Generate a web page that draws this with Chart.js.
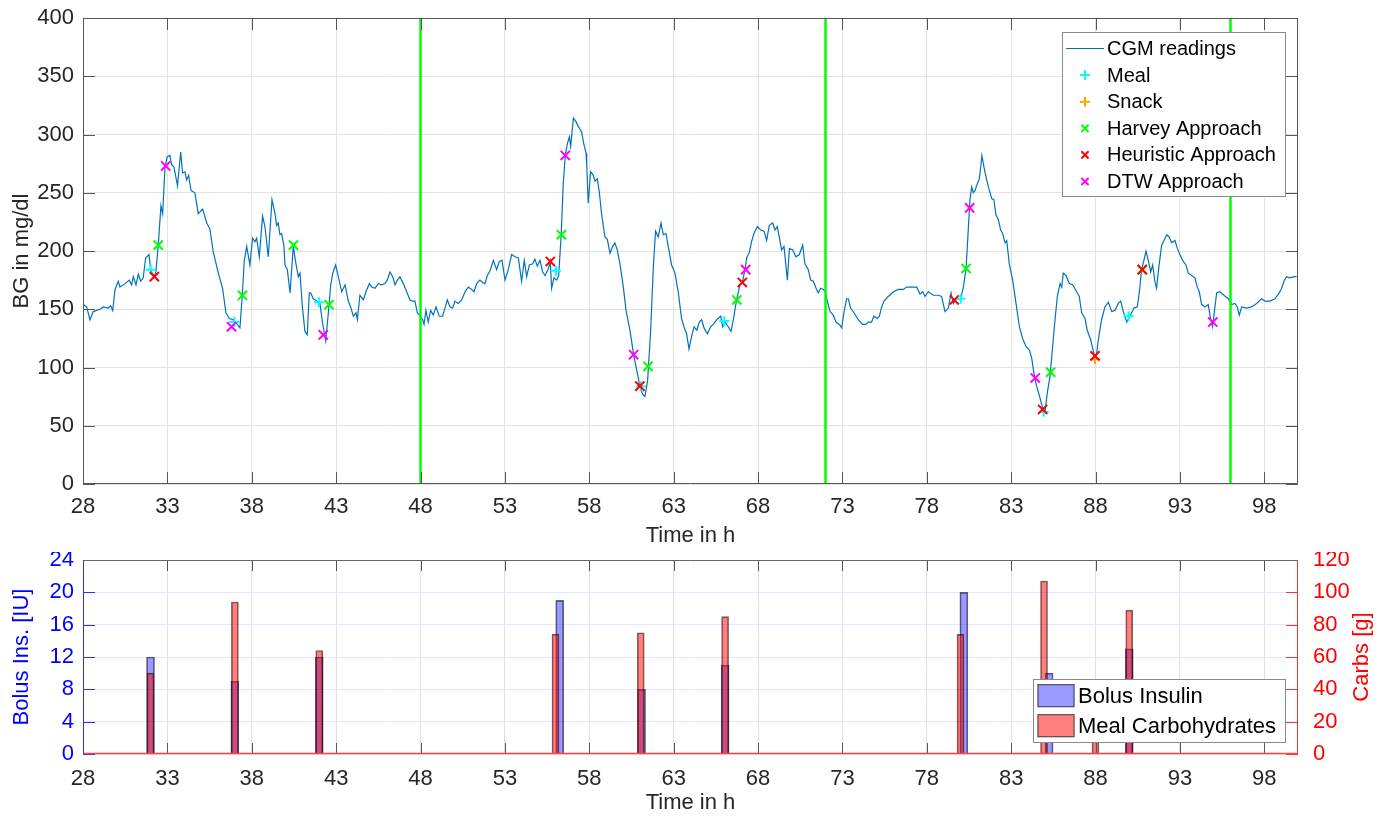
<!DOCTYPE html>
<html>
<head>
<meta charset="utf-8">
<script src="https://cdn.jsdelivr.net/npm/chart.js@4.4.1/dist/chart.umd.min.js"></script>
<style>
  html, body { margin: 0; padding: 0; background: #fff; }
  #wrap { position: relative; width: 1381px; height: 819px; }
  .box { position: absolute; left: 0; width: 1381px; }
</style>
</head>
<body>
<div id="wrap">
  <div class="box" style="top:0;height:552px"><canvas id="bgChart"></canvas></div>
  <div class="box" style="top:552px;height:267px"><canvas id="bolusChart"></canvas></div>
</div>
<script>
// ---- data ----
// CGM trace as [time in h, BG in mg/dl]
var cgmReadings = [
  [28.02,154],[28.22,152],[28.41,141],[28.61,148],[29.0,150],[29.2,152],[29.5,151],[29.64,153],[29.76,149],
  [29.9,167],[30.09,174],[30.19,169],[30.49,172],[30.74,175],[30.88,171],[30.98,178],[31.14,171],[31.28,180],
  [31.42,174],[31.57,177],[31.71,194],[31.91,197],[32.01,184],[32.2,178],[32.32,182],[32.46,205],[32.62,239],
  [32.72,232],[32.86,272],[32.99,281],[33.15,282],[33.25,274],[33.39,272],[33.6,256],[33.79,285],[33.9,267],
  [34.04,268],[34.14,261],[34.26,265],[34.4,252],[34.63,250],[34.83,232],[35.09,236],[35.33,224],[35.52,219],
  [35.72,199],[36.02,181],[36.27,168],[36.47,147],[36.67,142],[36.9,141],[37.14,137],[37.3,134],[37.44,162],
  [37.56,192],[37.7,204],[37.89,188],[38.05,211],[38.19,208],[38.29,211],[38.45,195],[38.64,230],[38.78,221],
  [38.98,195],[39.2,244],[39.38,232],[39.47,222],[39.57,224],[39.67,214],[39.77,215],[39.91,204],[39.97,188],
  [40.11,184],[40.27,164],[40.46,204],[40.62,189],[40.76,178],[40.86,181],[41.0,152],[41.15,131],[41.29,128],
  [41.41,164],[41.49,164],[41.65,159],[41.85,157],[42.04,155],[42.2,138],[42.38,123],[42.54,147],[42.68,171],
  [42.8,181],[42.97,188],[43.13,178],[43.33,165],[43.53,171],[43.72,157],[43.86,152],[44.02,144],[44.18,147],
  [44.26,141],[44.41,162],[44.61,158],[44.77,165],[44.97,172],[45.11,169],[45.3,168],[45.5,172],[45.7,171],
  [45.9,172],[46.03,175],[46.19,182],[46.35,178],[46.49,171],[46.63,175],[46.78,178],[46.98,172],[47.18,165],
  [47.38,158],[47.53,157],[47.67,157],[47.81,147],[47.97,144],[48.13,141],[48.21,137],[48.32,149],[48.46,139],
  [48.6,149],[48.76,145],[48.92,152],[49.11,144],[49.31,144],[49.47,152],[49.59,158],[49.75,152],[49.9,151],
  [50.04,157],[50.24,155],[50.44,158],[50.64,165],[50.83,169],[51.03,167],[51.17,165],[51.33,172],[51.52,175],
  [51.68,173],[51.82,172],[51.96,179],[52.12,183],[52.32,192],[52.51,184],[52.67,191],[52.83,192],[53.01,175],
  [53.2,184],[53.4,197],[53.6,195],[53.8,194],[53.99,174],[54.15,192],[54.29,178],[54.45,188],[54.65,189],
  [54.78,193],[54.92,187],[55.08,192],[55.24,182],[55.38,179],[55.58,185],[55.69,191],[55.77,168],[55.91,177],
  [56.07,175],[56.19,179],[56.34,215],[56.46,258],[56.58,282],[56.7,292],[56.82,298],[56.9,290],[57.06,314],
  [57.21,311],[57.35,307],[57.55,302],[57.69,291],[57.81,284],[57.85,274],[57.94,241],[58.08,268],[58.24,265],
  [58.34,260],[58.48,262],[58.6,250],[58.73,232],[58.93,212],[59.07,210],[59.23,198],[59.39,204],[59.52,207],
  [59.66,201],[59.82,189],[60.02,169],[60.18,149],[60.41,132],[60.63,111],[60.81,98],[61.0,84],[61.16,77],
  [61.3,75],[61.46,89],[61.64,132],[61.8,187],[61.93,217],[62.09,212],[62.25,224],[62.39,214],[62.55,215],
  [62.68,204],[62.88,188],[63.08,181],[63.28,164],[63.47,142],[63.61,135],[63.77,129],[63.91,116],[64.07,127],
  [64.21,135],[64.37,132],[64.52,139],[64.66,141],[64.8,134],[65.0,129],[65.2,135],[65.35,137],[65.55,141],
  [65.79,144],[65.91,135],[66.04,139],[66.24,135],[66.4,131],[66.54,141],[66.73,158],[66.93,171],[67.07,173],
  [67.23,184],[67.33,194],[67.49,199],[67.62,208],[67.76,215],[67.96,221],[68.16,218],[68.36,217],[68.51,209],
  [68.67,222],[68.87,224],[69.01,218],[69.14,221],[69.3,209],[69.4,201],[69.54,204],[69.74,175],[69.86,202],
  [70.05,201],[70.25,195],[70.45,197],[70.65,205],[70.78,189],[70.98,184],[71.12,175],[71.28,174],[71.44,168],
  [71.57,164],[71.71,168],[71.87,167],[71.99,165],[72.11,157],[72.27,148],[72.46,145],[72.62,139],[72.82,137],
  [72.96,134],[73.09,147],[73.25,159],[73.35,159],[73.49,151],[73.69,147],[73.94,141],[74.2,137],[74.4,137],
  [74.54,139],[74.73,139],[74.87,144],[75.07,142],[75.19,144],[75.33,152],[75.47,157],[75.72,161],[76.02,165],
  [76.32,167],[76.61,167],[76.81,169],[77.11,169],[77.4,169],[77.6,163],[77.76,165],[77.9,161],[78.09,165],
  [78.39,162],[78.69,162],[78.88,161],[79.08,148],[79.28,151],[79.44,164],[79.58,155],[79.77,159],[80.01,159],
  [80.17,169],[80.33,185],[80.46,218],[80.56,244],[80.66,255],[80.76,250],[80.86,252],[81.0,258],[81.1,261],
  [81.16,267],[81.27,282],[81.39,272],[81.55,261],[81.71,252],[81.85,245],[81.98,244],[82.1,231],[82.24,227],
  [82.38,218],[82.5,215],[82.64,207],[82.74,209],[82.89,189],[83.09,175],[83.29,155],[83.49,135],[83.68,125],
  [83.88,118],[84.08,115],[84.22,108],[84.35,95],[84.51,84],[84.71,74],[84.87,65],[85.01,62],[85.14,78],
  [85.3,92],[85.46,118],[85.6,141],[85.74,161],[85.9,172],[86.0,169],[86.09,181],[86.25,179],[86.45,172],
  [86.65,171],[86.88,165],[87.04,161],[87.18,147],[87.38,142],[87.51,132],[87.71,124],[87.97,108],[88.07,112],
  [88.17,124],[88.36,141],[88.56,152],[88.76,156],[88.96,148],[89.15,149],[89.35,155],[89.49,157],[89.65,148],
  [89.85,139],[90.04,144],[90.28,151],[90.48,152],[90.6,165],[90.73,184],[90.87,192],[90.99,200],[91.13,192],
  [91.27,182],[91.39,188],[91.52,174],[91.62,168],[91.76,187],[91.92,205],[92.06,209],[92.22,214],[92.37,212],
  [92.51,207],[92.71,209],[92.85,202],[93.0,197],[93.2,191],[93.36,188],[93.5,181],[93.7,179],[93.89,177],
  [94.03,169],[94.15,165],[94.29,154],[94.49,152],[94.68,154],[94.82,142],[94.94,135],[95.02,145],[95.18,164],
  [95.37,165],[95.61,162],[95.87,159],[96.07,154],[96.26,155],[96.4,152],[96.52,145],[96.66,152],[96.96,151],
  [97.25,152],[97.55,155],[97.84,159],[98.04,157],[98.34,157],[98.63,159],[98.89,164],[99.03,168],[99.17,174],
  [99.32,178],[99.52,177],[99.76,178],[99.92,178]
];

var mealTime = [32.01, 36.97, 41.98, 56.03, 61.05, 66.0, 80.01, 84.93, 89.96];
var mealBG = [184, 139, 156, 183, 84, 140, 159, 62, 144];
var snackTime = [87.97];
var snackBG = [107];
var harveyTime = [32.46, 37.45, 40.47, 42.58, 56.35, 61.48, 66.74, 80.33, 85.34, 90.77];
var harveyBG = [205, 162, 205, 154, 214, 101, 158, 185, 96, 184];
var heuristicTime = [32.23, 55.69, 61.0, 67.07, 79.63, 84.87, 87.97, 90.77];
var heuristicBG = [178, 191, 84, 173, 158, 64, 110, 184];
var dtwTime = [32.9, 36.8, 42.24, 56.58, 60.63, 67.27, 80.54, 84.43, 94.95];
var dtwBG = [273, 135, 128, 282, 111, 184, 237, 91, 139];

var dayLines = [48, 72, 96];

var bolusTime = [32.0, 37.0, 42.0, 56.25, 61.1, 66.05, 80.2, 85.25, 90.0];
var bolusUnits = [12, 9, 12, 19, 8, 11, 20, 10, 13];
var carbTime = [32.0, 37.0, 42.0, 56.0, 61.05, 66.05, 80.0, 84.95, 88.0, 90.0];
var carbGrams = [50, 94, 64, 74, 75, 85, 74, 107, 20, 89];

var timeTicks = [28, 33, 38, 43, 48, 53, 58, 63, 68, 73, 78, 83, 88, 93, 98];
var bgTicks = [0, 50, 100, 150, 200, 250, 300, 350, 400];
var bolusTicks = [0, 4, 8, 12, 16, 20, 24];
var carbTicks = [0, 20, 40, 60, 80, 100, 120];

// ---- helpers ----
var FONT = '"Liberation Sans", Arial, Helvetica, sans-serif';
var INK = '#262626';

function byId(id) { return document.getElementById(id); }
function pairs(xs, ys) {
  return xs.map(function (x, i) { return { x: x, y: ys[i] }; });
}
function fixedTicks(list) {
  return function (scale) {
    scale.ticks = list.map(function (v) { return { value: v }; });
  };
}
// Fix an axis' thickness and drop the label overhang padding, so the plot
// box lands where the original figure has it.
function fitX(h) {
  return function (s) { s.height = h; s.paddingLeft = 0; s.paddingRight = 0; };
}
function fitY(w) {
  return function (s) { s.width = w; s.paddingTop = 0; s.paddingBottom = 0; };
}
function markerSet(label, xs, ys, color, style, radius, order) {
  return {
    label: label,
    data: pairs(xs, ys),
    showLine: false,
    pointStyle: style,
    pointRadius: radius,
    pointBorderWidth: 2,
    pointBorderColor: color,
    pointBackgroundColor: color,
    borderColor: color,
    order: order,
  };
}

// Box border plus MATLAB-style inward tick marks.
var framePlugin = {
  id: 'frame',
  afterDatasetsDraw: function (chart, args, opts) {
    var a = chart.chartArea, ctx = chart.ctx;
    ctx.save();
    (opts.ticks || []).forEach(function (t) {
      var scale = chart.scales[t.scale];
      ctx.strokeStyle = t.color;
      ctx.lineWidth = 1;
      scale.ticks.forEach(function (tick) {
        var p = Math.round(scale.getPixelForValue(tick.value)) + 0.5;
        t.sides.forEach(function (side) {
          ctx.beginPath();
          if (side === 'bottom') { ctx.moveTo(p, a.bottom); ctx.lineTo(p, a.bottom - t.len); }
          if (side === 'top') { ctx.moveTo(p, a.top); ctx.lineTo(p, a.top + t.len); }
          if (side === 'left') { ctx.moveTo(a.left, p); ctx.lineTo(a.left + t.len, p); }
          if (side === 'right') { ctx.moveTo(a.right, p); ctx.lineTo(a.right - t.len, p); }
          ctx.stroke();
        });
      });
    });
    var b = opts.border;
    var L = Math.round(a.left) + 0.5, R = Math.round(a.right) - 0.5;
    var T = Math.round(a.top) + 0.5, B = Math.round(a.bottom) - 0.5;
    function edge(color, w, x1, y1, x2, y2) {
      ctx.strokeStyle = color; ctx.lineWidth = w;
      ctx.beginPath(); ctx.moveTo(x1, y1); ctx.lineTo(x2, y2); ctx.stroke();
    }
    edge(b.top, 1, L, T, R, T);
    edge(b.bottom, b.bottomWidth || 1, L, B, R, B);
    edge(b.left, 1, L, T, L, B);
    edge(b.right, 1, R, T, R, B);
    if (opts.rightTitle) {
      var rt = opts.rightTitle;
      ctx.fillStyle = rt.color;
      ctx.font = '22px ' + FONT;
      ctx.textAlign = 'center';
      ctx.textBaseline = 'middle';
      ctx.translate(rt.x, (a.top + a.bottom) / 2);
      ctx.rotate(-Math.PI / 2);
      ctx.fillText(rt.text, 0, 0);
    }
    ctx.restore();
  },
};

// Legend drawn inside the plot area, as in the original figure.
var boxLegendPlugin = {
  id: 'boxLegend',
  afterDraw: function (chart, args, o) {
    var ctx = chart.ctx;
    var items = chart.data.datasets.filter(function (d) { return d.label; });
    ctx.save();
    ctx.fillStyle = '#fff';
    ctx.fillRect(o.box[0], o.box[1], o.box[2] - o.box[0], o.box[3] - o.box[1]);
    ctx.strokeStyle = '#8a8a8a';
    ctx.lineWidth = 1;
    ctx.strokeRect(o.box[0] + 0.5, o.box[1] + 0.5, o.box[2] - o.box[0], o.box[3] - o.box[1]);
    ctx.font = o.fontSize + 'px ' + FONT;
    ctx.textBaseline = 'middle';
    ctx.textAlign = 'left';
    items.forEach(function (d, i) {
      var y = o.rowY + i * o.rowGap;
      var x = o.sampleX;
      if (o.kind === 'swatch') {
        ctx.fillStyle = d.backgroundColor;
        ctx.fillRect(x - 18, y - 11.5, 37, 23);
        ctx.strokeStyle = '#444';
        ctx.strokeRect(x - 18 + 0.5, y - 11.5 + 0.5, 36, 22);
      } else if (d.showLine === false) {
        var r = d.pointRadius;
        ctx.strokeStyle = d.pointBorderColor;
        ctx.lineWidth = 2;
        ctx.beginPath();
        if (d.pointStyle === 'cross') {
          ctx.moveTo(x - r, y); ctx.lineTo(x + r, y);
          ctx.moveTo(x, y - r); ctx.lineTo(x, y + r);
        } else {
          var q = r * 0.55;
          ctx.moveTo(x - q, y - q); ctx.lineTo(x + q, y + q);
          ctx.moveTo(x - q, y + q); ctx.lineTo(x + q, y - q);
        }
        ctx.stroke();
      } else {
        ctx.strokeStyle = d.borderColor;
        ctx.lineWidth = 1.2;
        ctx.beginPath(); ctx.moveTo(x - 19, y); ctx.lineTo(x + 19, y); ctx.stroke();
      }
      ctx.fillStyle = '#000';
      ctx.fillText(d.label, o.textX, y + 1);
    });
    ctx.restore();
  },
};

Chart.defaults.font.family = FONT;
Chart.defaults.font.size = 22;
Chart.defaults.color = INK;

// ---- upper plot: CGM trace with detected meals ----
var bgDatasets = [
  {
    label: 'CGM readings',
    data: cgmReadings.map(function (p) { return { x: p[0], y: p[1] }; }),
    borderColor: '#0072BD',
    borderWidth: 1.2,
    pointRadius: 0,
    tension: 0,
    order: 6,
  },
  markerSet('Meal', mealTime, mealBG, '#00ffff', 'cross', 5, 5),
  markerSet('Snack', snackTime, snackBG, '#ffa500', 'cross', 5, 4),
  markerSet('Harvey Approach', harveyTime, harveyBG, '#00ff00', 'crossRot', 6.5, 3),
  markerSet('Heuristic Approach', heuristicTime, heuristicBG, '#ff0000', 'crossRot', 6.5, 2),
  markerSet('DTW Approach', dtwTime, dtwBG, '#ff00ff', 'crossRot', 6.5, 1),
];
dayLines.forEach(function (t) {
  bgDatasets.push({
    data: [{ x: t, y: 0 }, { x: t, y: 400 }],
    borderColor: '#00ff00',
    borderWidth: 2.5,
    pointRadius: 0,
    order: 0,
  });
});

new Chart(byId('bgChart'), {
  type: 'line',
  data: { datasets: bgDatasets },
  options: {
    animation: false,
    responsive: true,
    maintainAspectRatio: false,
    layout: { padding: { top: 18, right: 83, left: 0, bottom: 0 } },
    plugins: {
      legend: { display: false },
      tooltip: { enabled: false },
      frame: {
        border: { top: '#555', bottom: '#555', left: '#555', right: '#555' },
        ticks: [
          { scale: 'x', color: '#555', len: 12, sides: ['bottom', 'top'] },
          { scale: 'y', color: '#555', len: 12, sides: ['left', 'right'] },
        ],
      },
      boxLegend: {
        box: [1062, 32, 1285, 196],
        rowY: 48.5, rowGap: 26.6, sampleX: 1085, textX: 1107, fontSize: 20, kind: 'marks',
      },
    },
    scales: {
      x: {
        type: 'linear', min: 28, max: 100,
        afterBuildTicks: fixedTicks(timeTicks),
        afterFit: fitX(68),
        grid: { color: '#e3e3e3', drawTicks: false },
        border: { display: false },
        ticks: { padding: 10, color: INK, maxRotation: 0 },
        title: { display: true, text: 'Time in h', color: INK, padding: { top: 0, bottom: 3 } },
      },
      y: {
        type: 'linear', min: 0, max: 400,
        afterBuildTicks: fixedTicks(bgTicks),
        afterFit: fitY(83),
        grid: { color: '#e3e3e3', drawTicks: false },
        border: { display: false },
        ticks: { padding: 9, color: INK },
        title: { display: true, text: 'BG in mg/dl', color: INK, padding: { top: 9, bottom: 0 } },
      },
    },
  },
  plugins: [framePlugin, boxLegendPlugin],
});

// ---- lower plot: bolus insulin and meal carbohydrates ----
new Chart(byId('bolusChart'), {
  type: 'bar',
  data: {
    datasets: [
      {
        label: 'Bolus Insulin',
        data: pairs(bolusTime, bolusUnits),
        yAxisID: 'y',
        backgroundColor: 'rgba(0,0,255,0.4)',
        borderColor: 'rgba(0,0,0,0.6)',
        borderWidth: 1,
        barThickness: 8,
        grouped: false,
        order: 1,
      },
      {
        label: 'Meal Carbohydrates',
        data: pairs(carbTime, carbGrams),
        yAxisID: 'y1',
        backgroundColor: 'rgba(255,0,0,0.5)',
        borderColor: 'rgba(0,0,0,0.6)',
        borderWidth: 1,
        barThickness: 7,
        grouped: false,
        order: 0,
      },
    ],
  },
  options: {
    animation: false,
    responsive: true,
    maintainAspectRatio: false,
    layout: { padding: { top: 8, right: 0, left: 0, bottom: 0 } },
    plugins: {
      legend: { display: false },
      tooltip: { enabled: false },
      frame: {
        border: { top: '#666', bottom: '#ff4040', bottomWidth: 1.5, left: '#3030ff', right: '#ff3030' },
        ticks: [
          { scale: 'x', color: '#555', len: 11, sides: ['bottom', 'top'] },
          { scale: 'y', color: '#3030ff', len: 12, sides: ['left'] },
          { scale: 'y1', color: '#ff3030', len: 12, sides: ['right'] },
        ],
        rightTitle: { text: 'Carbs [g]', color: '#ff0000', x: 1362 },
      },
      boxLegend: {
        box: [1033, 127, 1285, 190],
        rowY: 143.7, rowGap: 30, sampleX: 1055.5, textX: 1078, fontSize: 22, kind: 'swatch',
      },
    },
    scales: {
      x: {
        type: 'linear', min: 28, max: 100, offset: false,
        afterBuildTicks: fixedTicks(timeTicks),
        afterFit: fitX(65),
        grid: { color: '#e0e0e0', drawTicks: false, offset: false },
        border: { display: false },
        ticks: { padding: 12, color: INK, maxRotation: 0 },
        title: { display: true, text: 'Time in h', color: INK, padding: { top: 0, bottom: 3 } },
      },
      y: {
        type: 'linear', position: 'left', min: 0, max: 24,
        afterBuildTicks: fixedTicks(bolusTicks),
        afterFit: fitY(83),
        grid: { color: '#e6e6ff', drawTicks: false },
        border: { display: false },
        ticks: { padding: 9, color: '#0000ff' },
        title: { display: true, text: 'Bolus Ins. [IU]', color: '#0000ff', padding: { top: 9, bottom: 0 } },
      },
      y1: {
        type: 'linear', position: 'right', min: 0, max: 120,
        afterBuildTicks: fixedTicks(carbTicks),
        afterFit: fitY(83),
        grid: { display: false },
        border: { display: false },
        ticks: { padding: 7, color: '#ff0000' },
      },
    },
  },
  plugins: [framePlugin, boxLegendPlugin],
});
</script>
</body>
</html>
